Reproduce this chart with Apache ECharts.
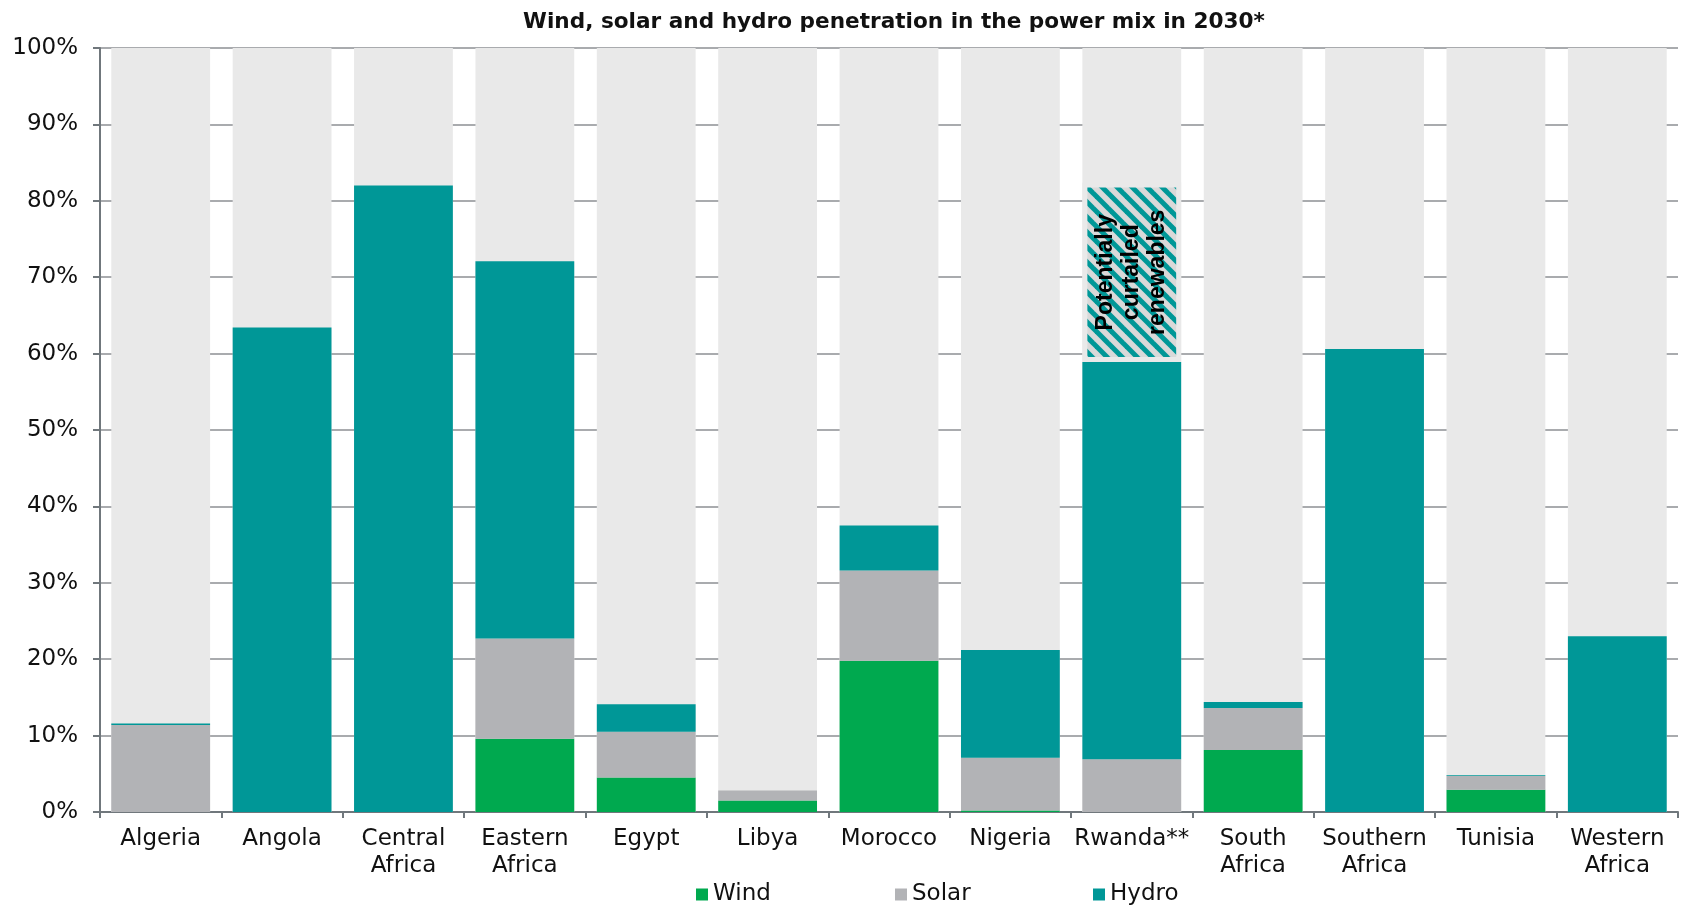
<!DOCTYPE html>
<html>
<head>
<meta charset="utf-8">
<script src="https://cdn.jsdelivr.net/npm/echarts@6/dist/echarts.min.js"></script>
<style>
  html, body { margin: 0; padding: 0; background: #fff; }
  #chart { width: 1690px; height: 905px; }
</style>
</head>
<body>
<div id="chart"></div>
<script>
// categories and values (% of power mix, 2030)
var categories = ["Algeria", "Angola", "Central\nAfrica", "Eastern\nAfrica", "Egypt", "Libya", "Morocco",
  "Nigeria", "Rwanda**", "South\nAfrica", "Southern\nAfrica", "Tunisia", "Western\nAfrica"];
var wind = [0, 0, 0, 9.6, 4.5, 1.5, 19.8, 0.2, 0, 8.1, 0, 2.9, 0];
var solar = [11.4, 0, 0, 13.1, 6.0, 1.3, 11.8, 6.9, 6.9, 5.5, 0, 1.8, 0];
var hydro = [0.2, 63.4, 82.0, 49.4, 3.6, 0, 5.9, 14.1, 52.0, 0.8, 60.6, 0.1, 23.0];
var curtailed = [null, null, null, null, null, null, null, null, 23.5, null, null, null, null];
var yTicks = [0, 10, 20, 30, 40, 50, 60, 70, 80, 90, 100];

var font = "DejaVu Sans";

// hatched fill for the curtailed block
function hatch() {
  var c = document.createElement("canvas");
  c.width = 15;
  c.height = 15;
  var ctx = c.getContext("2d");
  ctx.fillStyle = "#d9d9d9";
  ctx.fillRect(0, 0, 15, 15);
  ctx.strokeStyle = "#009797";
  ctx.lineWidth = 5;
  [-15, 0, 15].forEach(function (o) {
    ctx.beginPath();
    ctx.moveTo(o - 3, -3);
    ctx.lineTo(o + 18, 18);
    ctx.stroke();
  });
  return c;
}

var myChart = echarts.init(document.getElementById("chart"));

function legendAt(name, x) {
  return {
    data: [name],
    left: x,
    top: 882,
    padding: 0,
    itemWidth: 12,
    itemHeight: 12,
    itemGap: 5,
    icon: "rect",
    selectedMode: false,
    textStyle: { fontFamily: font, fontSize: 23, color: "#111", lineHeight: 25 },
  };
}

var option = {
  animation: false,
  title: {
    text: "Wind, solar and hydro penetration in the power mix in 2030*",
    left: 889,
    top: 6,
    textAlign: "center",
    textStyle: { fontFamily: font, fontSize: 21.6, fontWeight: "bold", color: "#111" },
  },
  legend: [legendAt("Wind", 696), legendAt("Solar", 895), legendAt("Hydro", 1093)],
  grid: { left: 100, right: 12, top: 48, bottom: 93 },
  xAxis: {
    type: "category",
    data: categories,
    axisLine: { lineStyle: { color: "#70777c", width: 2 } },
    axisTick: { show: true, length: 6, lineStyle: { color: "#70777c", width: 2 } },
    axisLabel: { fontFamily: font, fontSize: 23, color: "#111", lineHeight: 27, margin: 14, interval: 0 },
  },
  yAxis: {
    type: "value",
    min: yTicks[0],
    max: yTicks[yTicks.length - 1],
    interval: 10,
    axisLine: { show: true, lineStyle: { color: "#70777c", width: 2 } },
    axisTick: { show: true, length: 7, lineStyle: { color: "#70777c", width: 2 } },
    axisLabel: { fontFamily: font, fontSize: 23, color: "#111", margin: 22, formatter: "{value}%" },
    splitLine: { lineStyle: { color: "#8c8f93", width: 1.5 } },
  },
  series: [
    {
      name: "Wind",
      type: "bar",
      stack: "mix",
      barCategoryGap: "18.6%",
      showBackground: true,
      backgroundStyle: { color: "#e9e9e9" },
      itemStyle: { color: "#00a94f" },
      data: wind,
    },
    {
      name: "Solar",
      type: "bar",
      stack: "mix",
      itemStyle: { color: "#b2b3b6" },
      data: solar,
    },
    {
      name: "Hydro",
      type: "bar",
      stack: "mix",
      itemStyle: { color: "#009797" },
      data: hydro,
    },
    {
      name: "Curtailed",
      type: "bar",
      stack: "mix",
      itemStyle: { color: { image: hatch(), repeat: "repeat" }, borderColor: "#e9e9e9", borderWidth: 5 },
      label: {
        show: true,
        position: "inside",
        rotate: 90,
        formatter: "Potentially\ncurtailed\nrenewables",
        fontFamily: "Liberation Sans",
        fontSize: 23,
        lineHeight: 26,
        fontWeight: "bold",
        color: "#000",
      },
      data: curtailed,
    },
  ],
};

myChart.setOption(option);
</script>
</body>
</html>
